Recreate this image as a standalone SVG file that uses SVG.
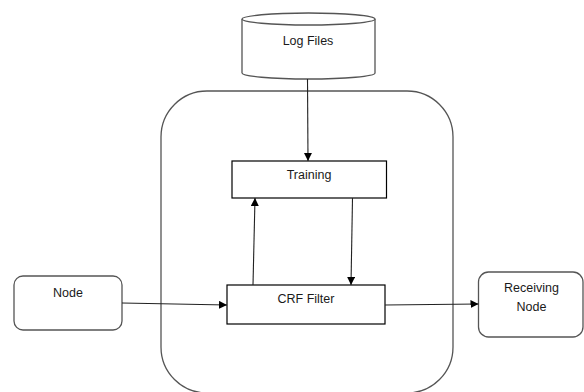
<svg xmlns="http://www.w3.org/2000/svg" width="584" height="392" viewBox="0 0 584 392">
<style>
.box{fill:#fff;stroke:#000;stroke-width:1.2}
.rbox{fill:#fff;stroke:#555;stroke-width:1.3}
.cont{fill:none;stroke:#555;stroke-width:1.3}
.conn{fill:none;stroke:#222;stroke-width:1.1;marker-end:url(#arr)}
.t{font-family:"Liberation Sans",Arial,sans-serif;font-size:12.5px;fill:#1a1a1a;text-anchor:middle;dominant-baseline:central}
</style>
<defs>
<marker id="arr" viewBox="0 0 10 10" refX="10" refY="5" markerWidth="8" markerHeight="8" markerUnits="userSpaceOnUse" orient="auto">
<path d="M0,0 L10,5 L0,10 Z" fill="#000"/>
</marker>
</defs>
<rect width="584" height="392" fill="#fff"/>
<g id="container">
<rect class="cont" x="161" y="91" width="292" height="302" rx="46" ry="46"/>
</g>
<g id="logfiles">
<path class="rbox" d="M242,19 L242,73 A66.5,6 0 0 0 375,73 L375,19"/>
<ellipse class="rbox" cx="308.5" cy="19" rx="66.5" ry="6"/>
<text class="t" x="308" y="41">Log Files</text>
</g>
<g id="training">
<rect class="box" x="232" y="161" width="154.5" height="37"/>
<text class="t" x="309" y="175">Training</text>
</g>
<g id="crf">
<rect class="box" x="227" y="285" width="158" height="39"/>
<text class="t" x="306" y="299">CRF Filter</text>
</g>
<g id="node">
<rect class="rbox" x="14" y="276" width="108" height="54" rx="9" ry="9"/>
<text class="t" x="68" y="293">Node</text>
</g>
<g id="receiving">
<rect class="rbox" x="478.5" y="272" width="104.5" height="65" rx="10" ry="10"/>
<text class="t" x="531.5" y="288">Receiving</text>
<text class="t" x="531.5" y="307">Node</text>
</g>
<g id="connectors">
<line class="conn" x1="307.5" y1="79" x2="308" y2="161"/>
<line class="conn" x1="253" y1="285" x2="255" y2="198"/>
<line class="conn" x1="352.5" y1="198" x2="351" y2="285"/>
<line class="conn" x1="122" y1="303" x2="227" y2="305"/>
<line class="conn" x1="385" y1="305" x2="478.5" y2="304"/>
</g>
</svg>
